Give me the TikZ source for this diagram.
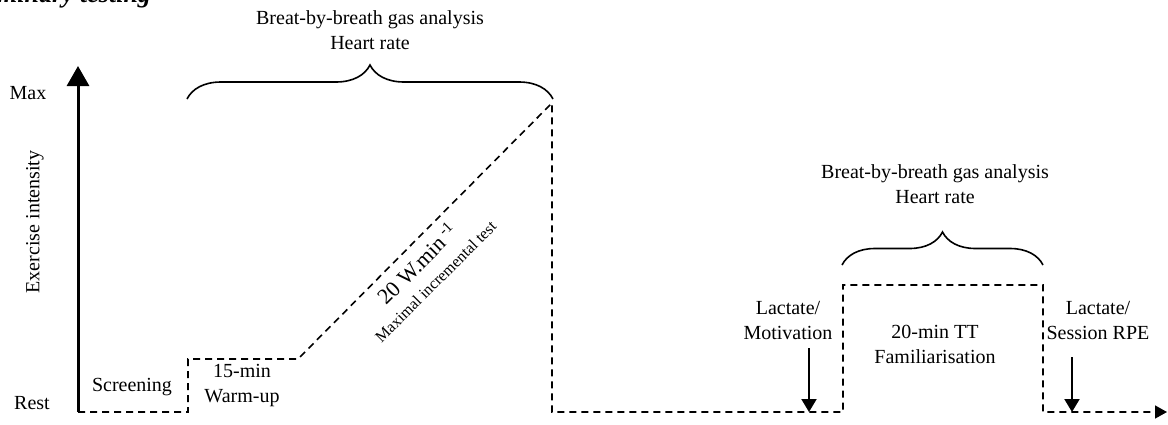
\documentclass[tikz,border=0pt]{standalone}
\usepackage{fontspec}
\setmainfont{Liberation Serif}
\usetikzlibrary{arrows.meta,decorations.pathreplacing}
\tikzset{
	profile/.style={dash pattern=on 3.5pt off 2.5pt, line width=0.8pt},
	curly/.style={decorate, decoration={brace, amplitude=#1}, line width=0.8pt},
	sample/.style={line width=1pt, -{Triangle[width=7.5pt,length=6.5pt]}},
	lbl/.style={align=center, inner sep=0pt}
}
\begin{document}
\begin{tikzpicture}[x=0.5pt, y=-0.5pt, font=\fontsize{10}{12.5}\selectfont]
		\useasboundingbox (0,0) rectangle (1168,424);
		\node[anchor=base east, font=\fontsize{13}{15}\selectfont\bfseries\itshape] (title) at (158,2) {Preliminary testing};
		\coordinate (o) at (78,412);
		\coordinate (top) at (78,66);
		\draw[line width=1.5pt, -{Triangle[width=11pt,length=10pt]}] (o) -- (top);
		\node (max) at (28,93) {Max};
		\node (rest) at (32,403) {Rest};
		\node[rotate=90] (ylab) at (35,222) {Exercise intensity};
		\foreach \n/\x/\y in {s1/188/412, s2/188/359, w/298/359, pk/552/103, d/552/412, l/843/412, tt1/843/285, tt2/1043/285, r/1043/412, e/1167/412}
			\coordinate (\n) at (\x,\y);
		\draw[profile, -{Triangle[width=6.5pt,length=6pt]}] (o) -- (s1) -- (s2) -- (w) -- (pk) -- (d) -- (l) -- (tt1) -- (tt2) -- (r) -- (e);
		\node[lbl] (screen) at (132,387) {Screening};
		\node[lbl] (warmup) at (242,385) {15-min\\Warm-up};
		\node[lbl, rotate=45] (ramp) at (425,271) {\fontsize{11}{13}\selectfont 20 W.min\textsuperscript{ -1}\\[-1pt]\fontsize{8}{9.6}\selectfont Maximal incremental test};
		\node[lbl] (tt) at (935,344) {20-min TT\\Familiarisation};
		\node[lbl] (lacpre) at (788,320) {Lactate/\\Motivation};
		\node[lbl] (lacpost) at (1098,320) {Lactate/\\Session RPE};
		\coordinate (a1) at (809,348);
		\coordinate (b1) at (809,412);
		\coordinate (a2) at (1072,357);
		\coordinate (b2) at (1072,412);
		\draw[sample] (a1) -- (b1);
		\draw[sample] (a2) -- (b2);
		\coordinate (bl1) at (187,99);
		\coordinate (br1) at (553,99);
		\coordinate (bl2) at (842,265);
		\coordinate (br2) at (1043,265);
		\draw[curly=17pt] (bl1) -- (br1);
		\draw[curly=16.5pt] (bl2) -- (br2);
		\node[lbl] (gas1) at (370,30) {Breat-by-breath gas analysis\\Heart rate};
		\node[lbl] (gas2) at (935,184) {Breat-by-breath gas analysis\\Heart rate};
	\end{tikzpicture}
\end{document}
